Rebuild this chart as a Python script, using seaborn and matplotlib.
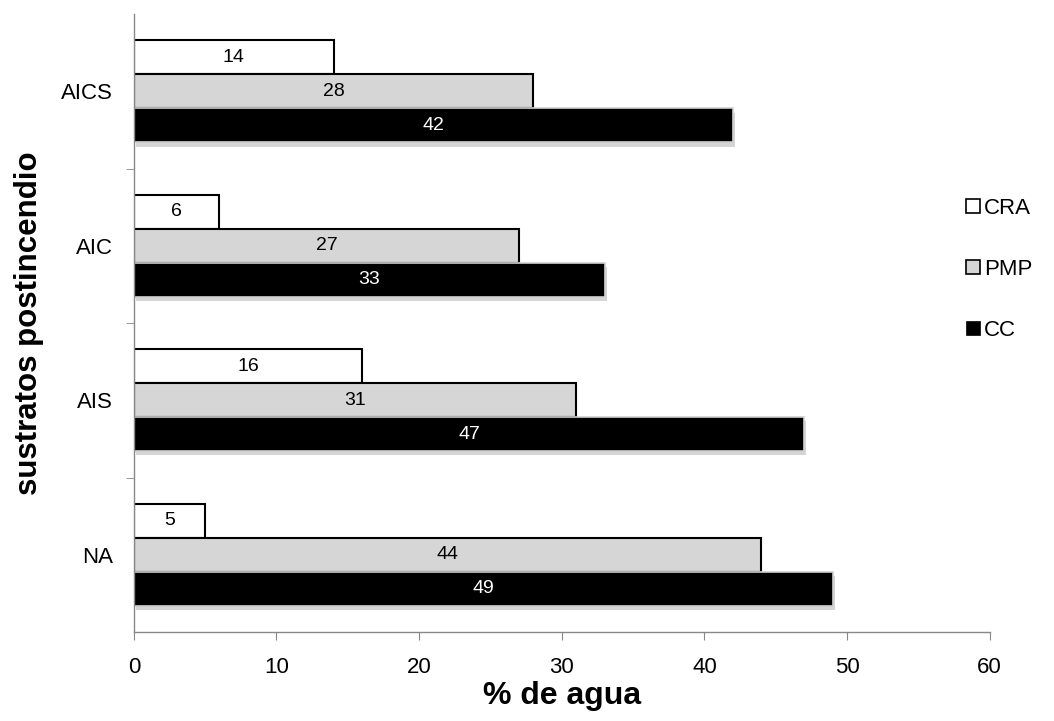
import matplotlib
matplotlib.use("Agg")
import matplotlib.pyplot as plt
import matplotlib.patheffects as pe
import seaborn as sns
import pandas as pd
from matplotlib.patches import Patch

categories = ["AICS", "AIC", "AIS", "NA"]
series = ["CRA", "PMP", "CC"]
cra = [14, 6, 16, 5]
pmp = [28, 27, 31, 44]
cc = [42, 33, 47, 49]

rows = []
for s, vals in zip(series, [cra, pmp, cc]):
    for c, v in zip(categories, vals):
        rows.append({"sustrato": c, "serie": s, "valor": v})
df = pd.DataFrame(rows)

sns.set_style("white")
plt.rcParams["font.family"] = ["Liberation Sans", "DejaVu Sans"]
plt.rcParams["text.color"] = "black"
plt.rcParams["axes.labelcolor"] = "black"
plt.rcParams["xtick.labelcolor"] = "black"
plt.rcParams["ytick.labelcolor"] = "black"

fig = plt.figure(figsize=(10.54, 7.21), dpi=100)
ax = fig.add_axes([0.127, 0.1234, 0.812, 0.857])

colors = {"CRA": "#ffffff", "PMP": "#d6d6d6", "CC": "#000000"}
sns.barplot(data=df, y="sustrato", x="valor", hue="serie", order=categories,
            hue_order=series, palette=colors, orient="h", width=0.66,
            ax=ax, legend=False, saturation=1)

for container, s in zip(ax.containers, series):
    for patch in container:
        if s == "CC":
            patch.set_edgecolor("#d0d0d0")
            patch.set_linewidth(1.2)
            patch.set_path_effects([pe.SimplePatchShadow(offset=(1.5, -3), shadow_rgbFace="#888888", alpha=0.35),
                                    pe.Normal()])
        else:
            patch.set_edgecolor("black")
            patch.set_linewidth(1.5)
    ax.bar_label(container, label_type="center", fontsize=14,
                 color="white" if s == "CC" else "black")

ax.set_xlim(0, 60)
ax.set_ylim(3.5, -0.5)
ax.set_xticks([0, 10, 20, 30, 40, 50, 60])
ax.tick_params(axis="x", labelsize=16, length=6, color="#888888", direction="out", bottom=True, pad=12)
ax.tick_params(axis="y", labelsize=16, length=0, pad=15)
ax.set_yticks([0.5, 1.5, 2.5], minor=True)
ax.tick_params(axis="y", which="minor", length=6, color="#888888", direction="out", left=True)

for sp in ["top", "right"]:
    ax.spines[sp].set_visible(False)
for sp in ["left", "bottom"]:
    ax.spines[sp].set_color("#888888")
    ax.spines[sp].set_linewidth(1)

ax.set_xlabel("% de agua", fontsize=23, fontweight="bold", labelpad=2)
ax.set_ylabel("sustratos postincendio", fontsize=22.5, fontweight="bold", labelpad=12)

handles = [Patch(facecolor="#ffffff", edgecolor="black", linewidth=1.2),
           Patch(facecolor="#d6d6d6", edgecolor="black", linewidth=1.2),
           Patch(facecolor="#000000", edgecolor="black", linewidth=0.5)]
fig.legend(handles, series, loc="center left", bbox_to_anchor=(0.898, 0.626),
           frameon=False, fontsize=16, handlelength=0.6, handleheight=0.6,
           handletextpad=0.2, labelspacing=1.8)

fig.savefig("out.png", dpi=100)
